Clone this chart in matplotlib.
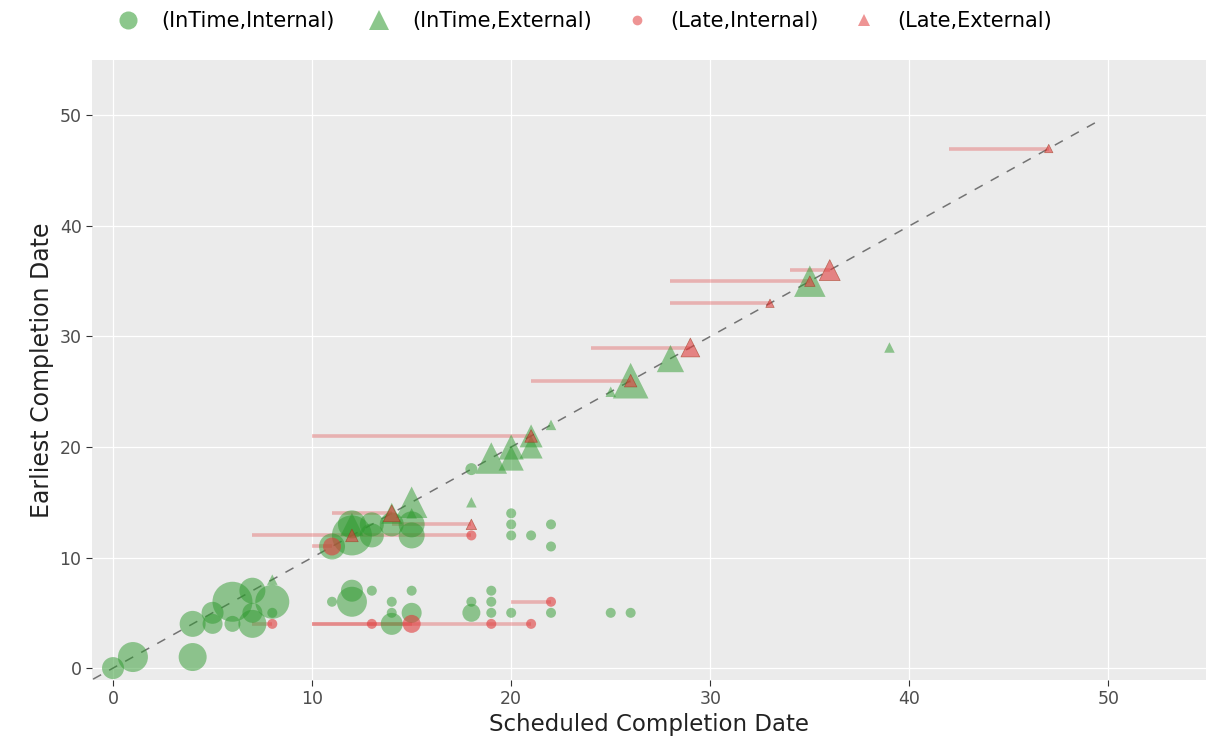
import numpy as np
import matplotlib
matplotlib.use("Agg")
import matplotlib.pyplot as plt
from matplotlib.lines import Line2D

# ===== data =====
# (InTime, Internal): scheduled, earliest, weight
it_int_x = [0, 1, 4, 4, 5, 5, 6, 6, 7, 7, 7, 8, 8,
            11, 12, 12, 13, 13, 14, 15, 15,
            11, 12, 12, 13, 14, 14, 14, 15, 15, 18, 18, 19, 19, 19, 20, 22, 25, 26,
            18, 20, 20, 20, 21, 22, 22]
it_int_y = [0, 1, 1, 4, 5, 4, 6, 4, 7, 5, 4, 6, 5,
            11, 12, 13, 13, 12, 13, 13, 12,
            6, 6, 7, 7, 6, 5, 4, 7, 5, 6, 5, 7, 6, 5, 5, 5, 5, 5,
            18, 14, 13, 12, 12, 13, 11]
it_int_w = [11, 15, 14, 13, 11, 10, 20, 8, 13, 10, 14, 17, 5,
            13, 20, 14, 12, 12, 12, 13, 13,
            5, 15, 11, 5, 5, 5, 11, 5, 10, 5, 9, 5, 5, 5, 5, 5, 5, 5,
            6, 5, 5, 5, 5, 5, 5]

# (InTime, External)
it_ext_x = [8, 12, 14, 15, 15, 18, 19, 20, 20, 21, 21, 22, 25, 26, 28, 35, 39]
it_ext_y = [8, 13, 14, 15, 14, 15, 19, 19, 20, 21, 20, 22, 25, 26, 28, 35, 29]
it_ext_w = [5, 11, 10, 15, 5, 5, 15, 12, 12, 11, 11, 5, 5, 17, 13, 15, 5]

# (Late, Internal): scheduled, earliest, start of delay, weight
lt_int_x = [8, 11, 18, 13, 15, 19, 21, 22]
lt_int_y = [4, 11, 12, 4, 4, 4, 4, 6]
lt_int_s = [7, 10, 7, 13, 10, 10, 19, 20]
lt_int_w = [5, 9, 5, 5, 9, 5, 5, 5]

# (Late, External)
lt_ext_x = [12, 14, 18, 21, 26, 29, 33, 35, 36, 47]
lt_ext_y = [12, 14, 13, 21, 26, 29, 33, 35, 36, 47]
lt_ext_s = [12, 11, 14, 10, 21, 24, 28, 28, 34, 42]
lt_ext_w = [6, 8, 5, 6, 6, 9, 4, 5, 10, 4]

green = "#2e9a2e"
red = "#e03c3c"


def msize(w):
    # weight -> radius in px -> scatter area in pt^2
    return (2 * np.asarray(w) * 0.72) ** 2


plt.rcParams.update({
    "font.family": "DejaVu Sans",
    "axes.facecolor": "#ebebeb",
})

fig = plt.figure(figsize=(12.06, 7.51), dpi=100)
ax = fig.add_axes([0.0763, 0.0945, 0.9237, 0.8255])

# diagonal reference
ax.plot([-1, 49.35], [-1, 49.35], ls=(0, (6, 6)), color="#555555", lw=1.1,
        alpha=0.8, zorder=2)

# delay segments
for xs, ys, ss in [(lt_int_x, lt_int_y, lt_int_s), (lt_ext_x, lt_ext_y, lt_ext_s)]:
    for x, y, s in zip(xs, ys, ss):
        if s < x:
            ax.plot([s, x], [y, y], color=red, lw=2.6, alpha=0.33,
                    solid_capstyle="butt", zorder=3)

ax.scatter(it_int_x, it_int_y, s=msize(it_int_w), marker="o", color=green,
           alpha=0.5, linewidths=0, zorder=4)
ax.scatter(it_ext_x, it_ext_y, s=msize(it_ext_w) * 1.1, marker="^", color=green,
           alpha=0.5, linewidths=0, zorder=4)
ax.scatter(lt_int_x, lt_int_y, s=msize(lt_int_w), marker="o", color=red,
           alpha=0.6, linewidths=0, zorder=5)
ax.scatter(lt_ext_x, lt_ext_y, s=msize(lt_ext_w) * 1.1, marker="^", color=red,
           alpha=0.6, edgecolors="#9a3418", linewidths=0.5, zorder=5)

ax.set_xlim(-1.055, 54.9)
ax.set_ylim(-1.08, 55)
ax.set_xticks([0, 10, 20, 30, 40, 50])
ax.set_yticks([0, 10, 20, 30, 40, 50])
ax.grid(True, color="white", lw=0.9)
ax.set_axisbelow(True)
for sp in ax.spines.values():
    sp.set_visible(False)
ax.tick_params(colors="#4d4d4d", labelsize=12.5, length=4, width=0.8)
ax.tick_params(axis="both", color="#333333")

ax.set_xlabel("Scheduled Completion Date", fontsize=16.5, color="#222222", labelpad=3)
ax.set_ylabel("Earliest Completion Date", fontsize=17, color="#222222", labelpad=4)

handles = [
    Line2D([], [], ls="", marker="o", markersize=13, color=green, alpha=0.55, mew=0),
    Line2D([], [], ls="", marker="^", markersize=14, color=green, alpha=0.55, mew=0),
    Line2D([], [], ls="", marker="o", markersize=7, color=red, alpha=0.55, mew=0),
    Line2D([], [], ls="", marker="^", markersize=8, color=red, alpha=0.55, mew=0),
]
labels = ["(InTime,Internal)", "(InTime,External)", "(Late,Internal)", "(Late,External)"]
fig.legend(handles, labels, loc="upper left", bbox_to_anchor=(0.08, 1.01),
           ncol=4, frameon=False, fontsize=15, handletextpad=1.0,
           columnspacing=1.55, handlelength=1.2)

fig.savefig("out.png", dpi=100)
